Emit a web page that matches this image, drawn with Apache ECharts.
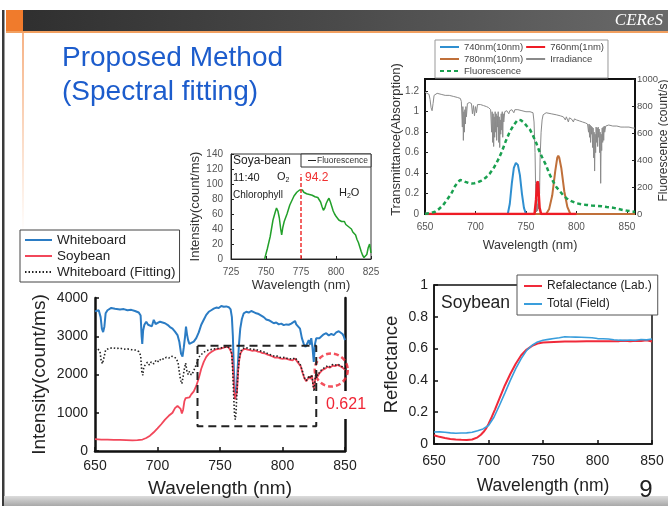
<!DOCTYPE html>
<html>
<head>
<meta charset="utf-8">
<script src="https://cdn.jsdelivr.net/npm/echarts@6/dist/echarts.min.js"></script>
<style>
  html, body { margin: 0; padding: 0; background: #fff; }
  #slide { width: 668px; height: 506px; }
</style>
</head>
<body>
<div id="slide"></div>
<script>
// ---- data (wavelength nm, value) ----

// small chart: soya-bean fluorescence, 11:40
var soyaFluo = [[749,0],[751,14],[753,30],[755,52],[756.5,62],[757.5,68],[758.5,64],[759.5,55],[760.5,40],[761.2,32],[762,42],[763,50],[764,55],[765,60],[766,66],[767,72],[768,76],[769,80],[770,84],[771,86],[772,89],[773,91],[774,92],[775,90],[776,92],[777,89],[778,90],[779,87],[780,88],[781,86],[782,87],[783,85],[784,86],[785,83],[786,84],[787,82],[788,80],[789,76],[790,70],[791,65],[792,68],[793,74],[794,78],[795,81],[796,76],[797,70],[798,64],[799,60],[800,57],[801,55],[802,52],[803,54],[804,50],[805,48],[806,50],[807,46],[808,47],[809,43],[810,45],[811,40],[812,36],[813,38],[814,32],[815,26],[816,22],[817,16],[818,10],[819,5],[820,2],[821,0],[822,6],[823,15],[824,20],[825,8]];
var soyaPeakWl = 775;
var soyaPeakTop = 113;

// transmittance chart (the plot runs a little past 850)
var irradiance = [[650,1.19],[652,1.18],[654,1.17],[655,1.12],[656,1.04],[657,1.01],[658,1.08],[659,1.16],[662,1.18],[666,1.17],[670,1.16],[674,1.16],[678,1.15],[682,1.14],[685,1.13],[686,1.1],[687,0.85],[687.5,1.05],[688,0.72],[688.5,1.0],[689,0.8],[689.5,1.02],[690,0.88],[690.5,1.05],[691,0.95],[692,1.08],[694,1.09],[696,1.08],[697,0.98],[698,1.06],[699,0.96],[700,1.05],[701,0.99],[702,1.07],[705,1.07],[708,1.06],[711,1.05],[713,1.04],[715,1.02],[716,0.8],[716.5,1.0],[717,0.7],[717.5,0.98],[718,0.66],[718.5,0.95],[719,0.75],[719.5,1.0],[720,0.8],[720.5,0.98],[721,0.72],[721.5,0.96],[722,0.85],[722.5,1.0],[723,0.7],[723.5,0.95],[724,0.65],[724.5,0.92],[725,0.78],[725.5,0.98],[726,0.82],[726.5,1.0],[727,0.75],[727.5,0.98],[728,0.9],[729,1.0],[731,1.01],[733,0.98],[734,1.01],[736,1.02],[738,0.99],[739,1.02],[742,1.02],[746,1.01],[750,1.0],[754,1.0],[757,0.99],[758,0.9],[759,0.6],[759.5,0.3],[760,0.08],[760.5,0.02],[761,0.1],[761.5,0.03],[762,0.15],[762.5,0.05],[763,0.3],[763.5,0.2],[764,0.55],[765,0.8],[766,0.92],[767,0.97],[770,0.99],[775,0.98],[780,0.97],[784,0.96],[787,0.95],[789,0.92],[790,0.95],[792,0.9],[793,0.94],[795,0.93],[797,0.9],[798,0.93],[800,0.92],[803,0.91],[806,0.9],[809,0.89],[811,0.88],[812,0.8],[812.5,0.88],[813,0.75],[813.5,0.87],[814,0.7],[814.5,0.86],[815,0.78],[815.5,0.85],[816,0.65],[816.5,0.84],[817,0.55],[817.5,0.8],[818,0.42],[818.5,0.78],[819,0.6],[819.5,0.85],[820,0.7],[820.5,0.84],[821,0.66],[821.5,0.85],[822,0.75],[822.5,0.83],[823,0.6],[823.5,0.8],[824,0.3],[824.5,0.78],[825,0.62],[825.5,0.84],[826,0.7],[826.5,0.85],[827,0.72],[827.5,0.86],[828,0.8],[829,0.86],[832,0.87],[836,0.86],[840,0.86],[844,0.85],[848,0.85],[852,0.85],[856,0.84],[858,0.84]];
var filter740 = [[650,0],[732,0],[734,0.1],[736,0.3],[738,0.45],[740,0.5],[742,0.48],[744,0.38],[746,0.2],[748,0.06],[750,0],[858,0]];
var filter760 = [[650,0],[758.5,0],[760,0.14],[761,0.3],[761.8,0.32],[762.5,0.22],[763.5,0.06],[765,0],[800,0]];
var filter780 = [[650,0],[770,0],[773,0.05],[776,0.18],[779,0.42],[781,0.55],[782,0.57],[783,0.55],[785,0.45],[788,0.22],[791,0.07],[794,0],[858,0]];
var fluorescence = [[650,0],[652,3],[656,8],[660,17],[664,38],[668,67],[672,108],[676,150],[680,210],[683,240],[685,252],[687,248],[690,238],[693,230],[696,226],[699,228],[702,234],[706,248],[710,268],[714,298],[718,340],[722,395],[726,460],[730,540],[734,610],[738,660],[741,690],[743,698],[745,695],[748,676],[751,650],[754,625],[757,580],[760,530],[763,470],[766,420],[770,360],[773,300],[777,240],[780,200],[784,165],[787,138],[790,117],[795,95],[800,80],[805,72],[810,67],[815,63],[820,60],[825,57],[830,52],[836,47],[841,38],[846,30],[850,25],[854,20],[858,15]];

// intensity chart
var whiteboard = [[650,3650],[651.5,3690],[653,3680],[654.5,3500],[655.5,3200],[656.5,3110],[657.5,3250],[658.5,3600],[660,3680],[663,3740],[666,3720],[670,3700],[673,3710],[676,3680],[679,3690],[682,3660],[685,3620],[686.5,3540],[687.3,3000],[687.8,2800],[688.5,3150],[689.5,3300],[691,3380],[692.5,3300],[694,3350],[695.5,3260],[697,3430],[698.5,3320],[700,3300],[702,3380],[704,3360],[706,3340],[708,3300],[710,3240],[712,3200],[714,3120],[716,3030],[717.5,2850],[718.8,2550],[720,2470],[721,2700],[722,2980],[722.8,3250],[723.6,3050],[724.5,2900],[725.5,2800],[727,2820],[729,2860],[731,2950],[733,3100],[735,3300],[737,3430],[739,3560],[741,3640],[743,3680],[745,3720],[747,3750],[749,3740],[751,3790],[753,3770],[755,3780],[757,3760],[758.5,3700],[759.5,3500],[760.3,3000],[761,2200],[761.8,1600],[762.5,1400],[763.3,1550],[764.2,2200],[765.2,2800],[766.2,3200],[767.5,3450],[769,3600],[771,3640],[773,3620],[775,3660],[777,3630],[779,3600],[781,3580],[783,3540],[785,3500],[787,3440],[789,3420],[791,3380],[793,3340],[795,3360],[797,3310],[799,3330],[801,3290],[803,3310],[805,3300],[807,3330],[808.5,3280],[810,3400],[811,3310],[812.5,3300],[814,3200],[815.5,2950],[817,2800],[818.5,2720],[820,2750],[821,2900],[822,2780],[823,2950],[824,2700],[825,2330],[826,2800],[827,2950],[828,2900],[829.5,2950],[831,3000],[833,3050],[835,3080],[837,3020],[839,3060],[841,3030],[843,3100],[845,3130],[846.5,3090],[848,3060],[849,3000],[850,2900]];
var soybean = [[650,310],[655,300],[660,295],[665,290],[670,290],[675,285],[680,280],[684,285],[688,300],[691,340],[694,400],[697,490],[700,590],[703,700],[706,820],[709,920],[712,1000],[714,1120],[716,1180],[717.5,1230],[718.5,1100],[719.5,980],[720.5,1080],[721.5,1300],[722.5,1380],[724,1350],[725.5,1400],[727,1480],[729,1560],[731,1700],[733,1900],[735,2150],[737,2330],[739,2460],[741,2540],[743,2590],[745,2630],[747,2660],[749,2670],[751,2680],[753,2700],[755,2720],[757,2710],[758.5,2680],[759.5,2550],[760.5,2100],[761.3,1600],[762,1350],[762.8,1300],[763.6,1550],[764.5,2100],[765.5,2400],[766.5,2560],[768,2640],[770,2670],[772,2650],[774,2640],[776,2620],[778,2630],[780,2600],[782,2590],[784,2560],[786,2550],[788,2520],[790,2500],[792,2470],[794,2440],[796,2450],[798,2420],[800,2410],[802,2420],[804,2400],[806,2380],[808,2370],[810,2420],[811.5,2350],[813,2300],[814.5,2220],[816,2050],[817.5,1900],[819,1820],[820.5,1850],[821.5,1950],[822.5,1880],[823.5,1980],[824.5,1750],[825.3,1620],[826.2,1900],[827,2050],[828,1950],[829,2000],[830,2050],[832,2120],[834,2150],[836,2200],[838,2180],[840,2230],[842,2220],[844,2250],[846,2220],[848,2180],[850,2120]];
var whiteboardFit = [[650,2650],[652,2680],[654,2600],[655,2350],[656,2280],[657,2420],[658.5,2640],[661,2680],[664,2700],[667,2680],[670,2690],[673,2660],[676,2670],[679,2650],[682,2640],[685,2600],[686.5,2500],[687.5,2050],[688.3,1980],[689,2200],[690.5,2260],[692,2320],[693.5,2250],[695,2330],[697,2280],[699,2380],[701,2330],[703,2420],[705,2400],[707,2450],[709,2430],[711,2480],[713,2460],[715,2420],[716.5,2300],[717.5,2050],[718.5,1850],[719.5,1760],[720.5,1950],[721.5,2150],[722.5,2300],[723.5,2100],[724.5,2000],[725.5,2080],[727,1990],[728.5,2060],[730,2020],[731.5,2300],[733,2450],[735,2520],[737,2580],[739,2620],[741,2640],[744,2660],[747,2680],[750,2690],[753,2710],[756,2720],[758.5,2680],[759.5,2500],[760.3,2000],[761,1400],[761.6,950],[762.2,820],[762.8,1000],[763.5,1500],[764.3,2000],[765.3,2400],[766.5,2600],[768,2680],[770,2700],[772,2690],[774,2670],[776,2660],[778,2650],[780,2640],[782,2620],[784,2600],[786,2580],[788,2550],[790,2520],[792,2500],[794,2470],[796,2480],[798,2450],[800,2440],[802,2450],[804,2420],[806,2410],[808,2400],[810,2440],[811.5,2380],[813,2320],[814.5,2240],[816,2080],[817.5,1920],[819,1840],[820.5,1870],[821.5,1970],[822.5,1900],[823.5,2000],[824.5,1700],[825.3,1560],[826.2,1920],[827,2070],[828,1970],[829,2020],[830,2080],[832,2150],[834,2180],[836,2230],[838,2200],[840,2260],[842,2240],[844,2270],[846,2240],[848,2200],[850,2150]];
var zoomBox = [[732,2750],[827,2750],[827,650],[732,650],[732,2750]];
var ratioSpot = [[839,2118]];
var ratioText = '0.621';

// reflectance chart
var reflLab = [[650,0.055],[655,0.045],[660,0.038],[665,0.032],[670,0.028],[675,0.026],[680,0.025],[685,0.028],[690,0.042],[693,0.058],[696,0.08],[698,0.1],[700,0.126],[703,0.17],[706,0.218],[710,0.285],[715,0.368],[720,0.44],[725,0.505],[730,0.558],[735,0.594],[740,0.617],[745,0.632],[750,0.638],[755,0.64],[760,0.642],[770,0.644],[780,0.645],[790,0.646],[800,0.646],[810,0.647],[820,0.647],[825,0.65],[830,0.646],[835,0.65],[840,0.648],[845,0.652],[850,0.645]];
var reflField = [[650,0.075],[655,0.076],[660,0.074],[665,0.07],[670,0.068],[675,0.069],[680,0.07],[685,0.074],[690,0.084],[695,0.095],[700,0.116],[705,0.168],[710,0.242],[715,0.32],[720,0.4],[725,0.474],[730,0.537],[735,0.589],[740,0.621],[745,0.642],[750,0.653],[755,0.658],[760,0.663],[765,0.668],[770,0.674],[775,0.673],[780,0.672],[785,0.671],[790,0.67],[795,0.668],[800,0.663],[805,0.662],[810,0.66],[815,0.656],[820,0.653],[825,0.652],[830,0.654],[835,0.652],[840,0.657],[845,0.655],[850,0.66]];

var FONT = '"Liberation Sans", Arial, sans-serif';

function plain(v) { return String(v); }

function valAxis(grid, min, max, interval, extra) {
    let ax = {
        gridIndex: grid,
        type: 'value',
        min: min,
        max: max,
        interval: interval,
        splitLine: { show: false },
        axisLine: { show: true, lineStyle: { color: '#222', width: 1 } },
        axisTick: { show: true, inside: true, length: 3, lineStyle: { color: '#222' } },
        axisLabel: { fontFamily: FONT, fontSize: 10, color: '#555' },
        nameLocation: 'middle',
        nameMoveOverlap: false,
        nameTextStyle: { fontFamily: FONT, color: '#333' }
    };
    for (var k in extra) ax[k] = extra[k];
    if (ax.axisLabel) ax.axisLabel.formatter = plain;
    return ax;
}

function line(name, data, xi, yi, color, width, type) {
    return {
        name: name,
        type: 'line',
        xAxisIndex: xi,
        yAxisIndex: yi,
        data: data,
        symbol: 'none',
        silent: true,
        itemStyle: { color: color },
        lineStyle: { color: color, width: width, type: type || 'solid' }
    };
}

let greenA = line('Soya-bean fluorescence', soyaFluo, 0, 0, '#22a02a', 1.5);
greenA.markLine = {
    silent: true,
    symbol: 'none',
    label: { show: false },
    lineStyle: { color: '#f03030', type: [4, 2], width: 1.5 },
    data: [[{ coord: [soyaPeakWl, 0] }, { coord: [soyaPeakWl, soyaPeakTop] }]]
};

// legend icon: line only, hide the symbol ECharts adds
let noSymbol = { opacity: 0 };

let option = {
    animation: false,
    backgroundColor: '#ffffff',
    textStyle: { fontFamily: FONT },
    grid: [
        { left: 231, top: 154, width: 140, height: 105, outerBoundsMode: 'none', show: true, borderColor: '#333', borderWidth: 1 },
        { left: 425, top: 79, width: 210, height: 135, outerBoundsMode: 'none', show: true, borderColor: '#111', borderWidth: 2 },
        { left: 95, top: 298, width: 250, height: 153, outerBoundsMode: 'none' },
        { left: 434, top: 285, width: 218, height: 159, outerBoundsMode: 'none', show: true, borderColor: '#111', borderWidth: 1.5 }
    ],
    xAxis: [
        valAxis(0, 725, 825, 25, {
            name: 'Wavelength (nm)', nameGap: 20,
            nameTextStyle: { fontFamily: FONT, fontSize: 13, color: '#333' },
            axisLabel: { fontFamily: FONT, fontSize: 10, color: '#555', margin: 8 }
        }),
        valAxis(1, 650, 858, 50, {
            name: 'Wavelength (nm)', nameGap: 25,
            nameTextStyle: { fontFamily: FONT, fontSize: 12.5, color: '#333' },
            axisLine: { show: true, lineStyle: { color: '#111', width: 2 } },
            axisLabel: { fontFamily: FONT, fontSize: 10, color: '#555', margin: 8, showMaxLabel: false }
        }),
        valAxis(2, 650, 850, 50, {
            name: 'Wavelength (nm)', nameGap: 28,
            nameTextStyle: { fontFamily: FONT, fontSize: 19, color: '#222' },
            axisLine: { show: true, lineStyle: { color: '#111', width: 2.5 } },
            axisTick: { show: true, inside: true, length: 4, lineStyle: { color: '#111', width: 1.5 } },
            axisLabel: { fontFamily: FONT, fontSize: 14, color: '#222', margin: 8 }
        }),
        valAxis(3, 650, 850, 50, {
            name: 'Wavelength (nm)', nameGap: 33,
            nameTextStyle: { fontFamily: FONT, fontSize: 17.5, color: '#222' },
            axisLine: { show: true, lineStyle: { color: '#111', width: 1.5 } },
            axisTick: { show: true, inside: true, length: 4, lineStyle: { color: '#111', width: 1.5 } },
            axisLabel: { fontFamily: FONT, fontSize: 14, color: '#222', margin: 10 }
        })
    ],
    yAxis: [
        valAxis(0, 0, 140, 20, {
            name: 'Intensity(count/ms)', nameGap: 29, nameRotate: 90,
            nameTextStyle: { fontFamily: FONT, fontSize: 13, color: '#333' },
            axisLabel: { fontFamily: FONT, fontSize: 10, color: '#555', margin: 8 }
        }),
        valAxis(1, 0, 1.32, 0.2, {
            name: 'Transmittance(Absorption)', nameGap: 22, nameRotate: 90,
            nameTextStyle: { fontFamily: FONT, fontSize: 13, color: '#333', padding: [0, 0, 0, 14] },
            axisLine: { show: true, lineStyle: { color: '#111', width: 2 } },
            axisLabel: { fontFamily: FONT, fontSize: 10, color: '#555', margin: 6, showMaxLabel: false }
        }),
        valAxis(1, 0, 1000, 200, {
            position: 'right',
            name: 'Fluorescence (count/s)', nameGap: 23, nameRotate: 90,
            nameTextStyle: { fontFamily: FONT, fontSize: 12, color: '#333', padding: [0, 0, 0, 12] },
            axisLine: { show: true, lineStyle: { color: '#111', width: 2 } },
            axisLabel: { fontFamily: FONT, fontSize: 9.5, color: '#555', margin: 2 }
        }),
        valAxis(2, 0, 4000, 1000, {
            name: 'Intensity(count/ms)', nameGap: 46, nameRotate: 90,
            nameTextStyle: { fontFamily: FONT, fontSize: 19, color: '#222' },
            axisLine: { show: true, lineStyle: { color: '#111', width: 2.5 } },
            axisTick: { show: true, inside: true, length: 4, lineStyle: { color: '#111', width: 1.5 } },
            axisLabel: { fontFamily: FONT, fontSize: 14, color: '#222', margin: 7 }
        }),
        valAxis(2, 0, 4000, 1000, {
            position: 'right',
            axisLine: { show: true, lineStyle: { color: '#111', width: 2.5 } },
            axisTick: { show: false },
            axisLabel: { show: false }
        }),
        valAxis(3, 0, 1, 0.2, {
            name: 'Reflectance', nameGap: 33, nameRotate: 90,
            nameTextStyle: { fontFamily: FONT, fontSize: 18.5, color: '#222' },
            axisLine: { show: true, lineStyle: { color: '#111', width: 1.5 } },
            axisTick: { show: true, inside: true, length: 4, lineStyle: { color: '#111', width: 1.5 } },
            axisLabel: { fontFamily: FONT, fontSize: 14, color: '#222', margin: 6 }
        })
    ],
    legend: [
        {
            left: 435, top: 40, width: 200, orient: 'horizontal',
            padding: [2, 4], itemGap: 2, itemWidth: 19, itemHeight: 8,
            itemStyle: noSymbol,
            backgroundColor: '#fff', borderColor: '#999', borderWidth: 1,
            textStyle: { fontFamily: FONT, fontSize: 9.5, color: '#444', width: 68 },
            data: ['740nm(10nm)', '760nm(1nm)', '780nm(10nm)', 'Irradiance', 'Fluorescence']
        },
        {
            left: 20, top: 230, orient: 'vertical',
            padding: [3, 4], itemGap: 2, itemWidth: 27, itemHeight: 10,
            itemStyle: noSymbol,
            backgroundColor: '#fff', borderColor: '#444', borderWidth: 1,
            textStyle: { fontFamily: FONT, fontSize: 13.5, color: '#222' },
            data: ['Whiteboard', 'Soybean', 'Whiteboard (Fitting)']
        },
        {
            left: 517, top: 275, orient: 'vertical',
            padding: [5, 6], itemGap: 6, itemWidth: 18, itemHeight: 10,
            itemStyle: noSymbol,
            backgroundColor: '#fff', borderColor: '#555', borderWidth: 1,
            textStyle: { fontFamily: FONT, fontSize: 12, color: '#222' },
            data: ['Refalectance (Lab.)', 'Total (Field)']
        }
    ],
    series: [
        greenA,
        line('Irradiance', irradiance, 1, 1, '#8a8a8a', 1),
        line('740nm(10nm)', filter740, 1, 1, '#2f8fd0', 2),
        line('780nm(10nm)', filter780, 1, 1, '#c0703a', 2),
        line('760nm(1nm)', filter760, 1, 1, '#ee1c25', 2.5),
        line('Fluorescence', fluorescence, 1, 2, '#1aa050', 2.5, [4, 3]),
        line('Whiteboard', whiteboard, 2, 3, '#2b7cc4', 2),
        line('Soybean', soybean, 2, 3, '#f2475a', 1.8),
        line('Whiteboard (Fitting)', whiteboardFit, 2, 3, '#222', 1.6, [1.5, 2]),
        line('zoom box', zoomBox, 2, 3, '#222', 2, [8, 5]),
        {
            name: 'ratio spot',
            type: 'scatter',
            xAxisIndex: 2,
            yAxisIndex: 3,
            data: ratioSpot,
            symbol: 'circle',
            symbolSize: 33,
            silent: true,
            itemStyle: { color: 'rgba(0,0,0,0)', borderColor: '#f02535', borderWidth: 2.5, borderType: [5, 3] }
        },
        line('Refalectance (Lab.)', reflLab, 3, 5, '#f02a3a', 2),
        line('Total (Field)', reflField, 3, 5, '#3a9edc', 1.6)
    ],
    graphic: [
        // slide frame
        { type: 'rect', shape: { x: 6, y: 10, width: 662, height: 21 }, style: { fill: new echarts.graphic.LinearGradient(0, 0, 1, 0, [{ offset: 0, color: '#2e2e2e' }, { offset: 0.5, color: '#4a4a4a' }, { offset: 1, color: '#6a6a6a' }]) } },
        { type: 'rect', shape: { x: 6, y: 10, width: 17, height: 21 }, style: { fill: '#f07b2c' } },
        { type: 'rect', shape: { x: 6, y: 31, width: 662, height: 2 }, style: { fill: '#f2a060' } },
        { type: 'rect', shape: { x: 22, y: 33, width: 2, height: 200 }, style: { fill: new echarts.graphic.LinearGradient(0, 0, 0, 1, [{ offset: 0, color: 'rgba(245,170,120,0.9)' }, { offset: 1, color: 'rgba(245,170,120,0)' }]) } },
        { type: 'rect', shape: { x: 2, y: 10, width: 2.5, height: 496 }, style: { fill: '#3a3a3a' } },
        { type: 'rect', shape: { x: 4, y: 496, width: 664, height: 10 }, style: { fill: new echarts.graphic.LinearGradient(0, 0, 0, 1, [{ offset: 0, color: '#dcdcdc' }, { offset: 1, color: '#a8a8a8' }]) } },
        { type: 'text', x: 663, y: 21, style: { text: 'CEReS', fill: '#fff', font: 'italic 17px "Liberation Serif", serif', align: 'right', verticalAlign: 'middle' } },
        // title
        { type: 'text', x: 62, y: 58, style: { text: 'Proposed Method', fill: '#1c5ccc', font: '28px ' + FONT, verticalAlign: 'middle' } },
        { type: 'text', x: 62, y: 92, style: { text: '(Spectral fitting)', fill: '#1c5ccc', font: '28px ' + FONT, verticalAlign: 'middle' } },
        // small fluorescence chart notes
        { type: 'text', x: 233, y: 161, style: { text: 'Soya-bean', fill: '#222', font: '12px ' + FONT, verticalAlign: 'middle' } },
        { type: 'text', x: 233, y: 178, style: { text: '11:40', fill: '#222', font: '11px ' + FONT, verticalAlign: 'middle' } },
        { type: 'text', x: 277, y: 177, style: { text: 'O{s|2}', fill: '#222', font: '11px ' + FONT, verticalAlign: 'middle', rich: { s: { fontSize: 7, fontFamily: FONT, padding: [6, 0, 0, 0] } } } },
        { type: 'text', x: 305, y: 178, style: { text: '94.2', fill: '#f03030', font: '12px ' + FONT, verticalAlign: 'middle' } },
        { type: 'text', x: 233, y: 195, style: { text: 'Chlorophyll', fill: '#222', font: '10px ' + FONT, verticalAlign: 'middle' } },
        { type: 'text', x: 339, y: 193, style: { text: 'H{s|2}O', fill: '#222', font: '11px ' + FONT, verticalAlign: 'middle', rich: { s: { fontSize: 7, fontFamily: FONT, padding: [6, 0, 0, 0] } } } },
        { type: 'rect', shape: { x: 301, y: 154, width: 70, height: 13 }, style: { fill: '#fff', stroke: '#333', lineWidth: 1 } },
        { type: 'line', shape: { x1: 308, y1: 160.5, x2: 316, y2: 160.5 }, style: { stroke: '#222', lineWidth: 1 } },
        { type: 'text', x: 317, y: 161, style: { text: 'Fluorescence', fill: '#333', font: '8.5px ' + FONT, verticalAlign: 'middle' } },
        // intensity chart ratio
        { type: 'text', z: 100, x: 325, y: 405, style: { text: ratioText, fill: '#f02535', font: '16px ' + FONT, verticalAlign: 'middle', backgroundColor: '#fff', padding: [6, 1] } },
        // reflectance chart
        { type: 'text', x: 441, y: 303, style: { text: 'Soybean', fill: '#222', font: '17.5px ' + FONT, verticalAlign: 'middle' } },
        { type: 'text', x: 646, y: 490, style: { text: '9', fill: '#222', font: '24px ' + FONT, align: 'center', verticalAlign: 'middle' } }
    ]
};

var slide_chart = echarts.init(document.getElementById('slide'));
slide_chart.setOption(option);
</script>
</body>
</html>
